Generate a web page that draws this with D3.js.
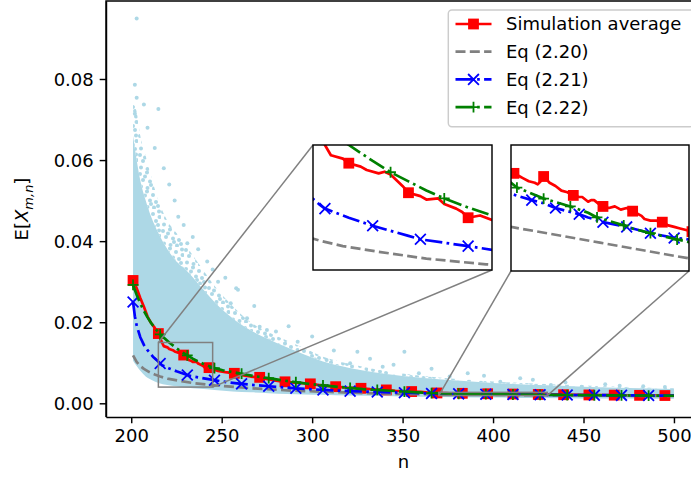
<!DOCTYPE html>
<html>
<head>
<meta charset="utf-8">
<script src="https://cdn.jsdelivr.net/npm/d3@7"></script>
<style>
  body { margin: 0; background: #fff; }
  svg { display: block; font-family: "DejaVu Sans", sans-serif; }
</style>
</head>
<body>
<div id="chart"></div>
<script>
// DATA
const xTicks = [200, 250, 300, 350, 400, 450, 500]
const yTicks = [0, 0.02, 0.04, 0.06, 0.08]
const legendLabels = ["Simulation average", "Eq (2.20)", "Eq (2.21)", "Eq (2.22)"]

// [n, E[X]]
const simAverage = [
  [201,0.0303],[203,0.0284],[205,0.0260],[207,0.0238],[209,0.0214],[211,0.0198],[213,0.0186],
  [215,0.0172],[217,0.0150],[218,0.0141],[220,0.0138],[221,0.0134],[223,0.0131],[224,0.0128],
  [226,0.0125],[227,0.01265],[228,0.0124],[229,0.0119],[230,0.0114],[231,0.0108],[233,0.0105],
  [234,0.0102],[236,0.0103],[237,0.0098],[239,0.0094],[240,0.0091],[241,0.0086],[243,0.0088],
  [245,0.0084],[248,0.0080],[252,0.0077],[257,0.0074],[262,0.0069],[266,0.0066],[271,0.0064],
  [276,0.0059],[280,0.0056],[285,0.0053],[290,0.0051],[294,0.0050],[299,0.0048],[304,0.0045],
  [308,0.0043],[313,0.0041],[318,0.0039],[322,0.0038],[327,0.0037],[332,0.0035],[336,0.0034],
  [341,0.0033],[346,0.0031],[350,0.0030],[355,0.0029],[360,0.0028],[364,0.00265],[369,0.00255],
  [370,0.00253],[371,0.00252],[373,0.00250],[374,0.00249],[376,0.00247],[378,0.00246],[379,0.00245],
  [380,0.00247],[381,0.00250],[382,0.00248],[383,0.00246],[385,0.00244],[387,0.00241],[389,0.00240],
  [391,0.00238],[393,0.00237],[394,0.00237],[396,0.00234],[397,0.00235],[398,0.00235],[400,0.00232],
  [401,0.00231],[403,0.00230],[405,0.00231],[407,0.00229],[409,0.00230],[411,0.00228],[412,0.00227],
  [414,0.00225],[415,0.00223],[417,0.00222],[419,0.00222],[421,0.00221],[423,0.00219],[425,0.00218],
  [427,0.00217],[429,0.00216],[431,0.00215],[435,0.00214],[439,0.00212],[446,0.00209],[453,0.00206],
  [460,0.00204],[467,0.00201],[474,0.00199],[481,0.00196],[488,0.00194],[495,0.00192],[500,0.00190]
]
const eq220 = [
  [201,0.0118],[203,0.0102],[205,0.0092],[207,0.0085],[210,0.0077],[213,0.0071],[216,0.0066],
  [220,0.0061],[226,0.0056],[234,0.0050],[244,0.0045],[255,0.0041],[270,0.0036],[290,0.0031],
  [310,0.0028],[330,0.0025],[350,0.0023],[370,0.00218],[385,0.00213],[400,0.00208],[415,0.00203],
  [430,0.00198],[450,0.00193],[475,0.00186],[500,0.00180]
]
const eq221 = [
  [201,0.0250],[202,0.0215],[203,0.0192],[205,0.0163],[207,0.0144],[209,0.0131],[212,0.0115],
  [214,0.0107],[216,0.0098],[217,0.0094],[221,0.0086],[225,0.0079],[229,0.0073],[231,0.0070],
  [233,0.0067],[237,0.0064],[241,0.0061],[246,0.0057],[253,0.0052],[261,0.0048],[268,0.0045],
  [276,0.0042],[291,0.0037],[306,0.0033],[321,0.0030],[336,0.0028],[351,0.0026],[366,0.00242],
  [370,0.00239],[377,0.00235],[381,0.00233],[385,0.00230],[393,0.00226],[396,0.00224],[401,0.00221],
  [409,0.00218],[411,0.00217],[417,0.00214],[425,0.00211],[426,0.00211],[430,0.00210],[441,0.00206],
  [456,0.00201],[471,0.00196],[486,0.00192],[500,0.00188]
]
const eq222 = [
  [201,0.0292],[203,0.0268],[205,0.0246],[207,0.0228],[209,0.0212],[211,0.0198],[213,0.0186],
  [216,0.0170],[219,0.0158],[221,0.0150],[225,0.0136],[228,0.0126],[231,0.0118],[234,0.0110],
  [237,0.0103],[241,0.0095],[245,0.0088],[246,0.0087],[251,0.0081],[256,0.0077],[261,0.0073],
  [268,0.0067],[276,0.0062],[283,0.0057],[291,0.0052],[298,0.0048],[306,0.0044],[313,0.0041],
  [321,0.0038],[328,0.0035],[336,0.0033],[343,0.0031],[351,0.0029],[358,0.0027],[366,0.00252],
  [372,0.00243],[381,0.00236],[390,0.00231],[396,0.00227],[399,0.00224],[408,0.00219],[411,0.00217],
  [417,0.00214],[426,0.00210],[431,0.00208],[441,0.00204],[456,0.00199],[471,0.00194],[486,0.00190],
  [500,0.00186]
]

// scatter of single runs: [n, low, top of dense part, top of sparse part] and loose points [n, value]
const cloudBand = [
  [201,0.0105,0.066,0.074],[203,0.0092,0.060,0.072],[205,0.0080,0.055,0.066],[208,0.0066,0.050,0.061],
  [211,0.0058,0.046,0.056],[215,0.0050,0.042,0.050],[220,0.0045,0.038,0.045],[225,0.0042,0.035,0.042],
  [230,0.0039,0.033,0.039],[238,0.0036,0.029,0.034],[246,0.0033,0.025,0.029],[256,0.0029,0.021,0.024],
  [266,0.0027,0.018,0.020],[276,0.0025,0.0158,0.0175],[286,0.0023,0.0138,0.0155],[296,0.0022,0.0120,0.0135],
  [306,0.0021,0.0103,0.0115],[320,0.0019,0.0088,0.0098],[340,0.0018,0.0073,0.0080],[360,0.0016,0.0063,0.0068],
  [380,0.0015,0.0056,0.0060],[400,0.0014,0.0050,0.0054],[425,0.0013,0.0045,0.0048],[450,0.0012,0.0041,0.0044],
  [475,0.0012,0.0038,0.0040],[500,0.0011,0.0035,0.0037]
]
const cloudOutliers = [
  [203,0.0949],[202,0.0786],[203,0.0754],[207,0.0737],[202,0.0714],[215,0.0726],[209,0.068],
  [213,0.063],[218,0.058],[221,0.054],[224,0.050],[226,0.046],[229,0.044],[231,0.0395],[234,0.041],
  [237,0.038],[242,0.035],[245,0.033],[248,0.030],[252,0.031],[258,0.0284],[259,0.028],[255,0.0247],
  [264,0.021],[268,0.024],[271,0.0189],[275,0.0181],[280,0.0177],[282,0.014],[287,0.019],[292,0.0152],
  [300,0.0165],[308,0.0107],[312,0.013],[321,0.0099],[325,0.0127],[332,0.011],[339,0.009],[345,0.0095],
  [351,0.0127],[359,0.0074],[366,0.0085],[376,0.0066],[386,0.0074],[395,0.0068],[404,0.0053],
  [415,0.0062],[422,0.0058],[432,0.0045],[440,0.0052],[449,0.0041],[462,0.0047],[470,0.0043],
  [483,0.0042],[495,0.0040]
]

// STYLES
const lw = 2.7
const series = [
  { data: simAverage, color: "#ff0000", dash: null, marker: "s", every: 14, insetEvery: 10 },
  { data: eq220, color: "#808080", dash: "10,4.3", marker: null },
  { data: eq221, color: "#0000ff", dash: "17.3,4.3,2.7,4.3", marker: "x", every: 15, insetEvery: 8 },
  { data: eq222, color: "#008000", dash: "17.3,4.3,2.7,4.3", marker: "+", every: 15, insetEvery: 9 },
]

// DIMENSIONS
const dimensions = {
  width: 691,
  height: 480,
  left: 106,
  right: 701,
  top: 1,
  bottom: 417,
}

const wrapper = d3.select("#chart")
  .append("svg")
  .attr("width", dimensions.width)
  .attr("height", dimensions.height)

const xScale = d3.scaleLinear()
  .domain([186.05, 514.95])
  .range([dimensions.left, dimensions.right])
const yScale = d3.scaleLinear()
  .domain([-0.00338, 0.09924])
  .range([dimensions.bottom, dimensions.top])

const defs = wrapper.append("defs")
defs.append("clipPath").attr("id", "clip-main")
  .append("rect")
  .attr("x", dimensions.left).attr("y", dimensions.top)
  .attr("width", dimensions.right - dimensions.left)
  .attr("height", dimensions.bottom - dimensions.top)

// loose dot texture for the thin upper part of the cloud
const sparse = defs.append("pattern")
  .attr("id", "sparse-dots")
  .attr("patternUnits", "userSpaceOnUse")
  .attr("width", 23).attr("height", 19)
;[[2, 3], [9, 1.5], [15, 5], [21, 2.5], [5, 9], [12, 10.5], [18, 12], [3, 15.5],
  [9.5, 17], [16, 17.5], [21.5, 8], [7, 5.5], [13, 14], [20, 16]].forEach(([cx, cy]) => {
  sparse.append("circle").attr("cx", cx).attr("cy", cy).attr("r", 2).attr("fill", "#add8e6")
})

const plot = wrapper.append("g").attr("clip-path", "url(#clip-main)")

// scatter cloud
const cloud = plot.append("g")
cloud.append("path")
  .datum(cloudBand)
  .attr("d", d3.area()
    .x(d => xScale(d[0]))
    .y0(d => yScale(d[2]))
    .y1(d => yScale(d[3]))
    .curve(d3.curveMonotoneX))
  .attr("fill", "url(#sparse-dots)")
cloud.append("path")
  .datum(cloudBand)
  .attr("d", d3.area()
    .x(d => xScale(d[0]))
    .y0(d => yScale(d[1]))
    .y1(d => yScale(d[2]))
    .curve(d3.curveMonotoneX))
  .attr("fill", "#add8e6")
cloud.selectAll("circle")
  .data(cloudOutliers)
  .join("circle")
    .attr("cx", d => xScale(d[0]))
    .attr("cy", d => yScale(d[1]))
    .attr("r", 2)
    .attr("fill", "#add8e6")

// INSETS
const insets = [
  { x: 313, y: 145, w: 179, h: 125, xDomain: [215, 245], yDomain: [0.004, 0.015],
    corners: [[0, 0], [1, 1]] },
  { x: 511, y: 145, w: 178, h: 126, xDomain: [370, 430], yDomain: [0.0019, 0.0027],
    corners: [[0, 1], [1, 1]] },
]

// zoom rectangles and connectors (under the curves)
const marks = wrapper.append("g")
insets.forEach(ins => {
  const rx0 = xScale(ins.xDomain[0]), rx1 = xScale(ins.xDomain[1])
  const ry0 = yScale(ins.yDomain[1]), ry1 = yScale(ins.yDomain[0])
  marks.append("rect")
    .attr("x", rx0).attr("y", ry0)
    .attr("width", rx1 - rx0).attr("height", Math.max(ry1 - ry0, 1))
    .attr("fill", "none").attr("stroke", "#808080").attr("stroke-width", 1.5)
  ins.corners.forEach(([fx, fy]) => {
    marks.append("line")
      .attr("x1", ins.x + fx * ins.w).attr("y1", ins.y + fy * ins.h)
      .attr("x2", rx0 + fx * (rx1 - rx0)).attr("y2", ry0 + fy * (ry1 - ry0))
      .attr("stroke", "#808080").attr("stroke-width", 1.5)
  })
})

function drawMarker(g, kind, color, cx, cy) {
  const s = 5.4
  if (kind === "s") {
    g.append("rect")
      .attr("x", cx - s).attr("y", cy - s)
      .attr("width", 2 * s).attr("height", 2 * s)
      .attr("fill", color)
  } else if (kind === "x") {
    g.append("path")
      .attr("d", `M${cx - s},${cy - s}L${cx + s},${cy + s}M${cx - s},${cy + s}L${cx + s},${cy - s}`)
      .attr("stroke", color).attr("stroke-width", 1.8).attr("fill", "none")
  } else if (kind === "+") {
    g.append("path")
      .attr("d", `M${cx - s},${cy}L${cx + s},${cy}M${cx},${cy - s}L${cx},${cy + s}`)
      .attr("stroke", color).attr("stroke-width", 1.8).attr("fill", "none")
  }
}

function drawSeries(g, s, x, y, every) {
  const line = d3.line().x(d => x(d[0])).y(d => y(d[1]))
  g.append("path")
    .datum(s.data)
    .attr("d", line)
    .attr("fill", "none")
    .attr("stroke", s.color)
    .attr("stroke-width", lw)
    .attr("stroke-linejoin", "round")
    .attr("stroke-dasharray", s.dash)
  if (s.marker) {
    s.data.filter(d => (d[0] - 201) % every === 0)
      .forEach(d => drawMarker(g, s.marker, s.color, x(d[0]), y(d[1])))
  }
}

series.forEach(s => drawSeries(plot.append("g"), s, xScale, yScale, s.every))

// inset axes
insets.forEach((ins, i) => {
  const ix = d3.scaleLinear().domain(ins.xDomain).range([ins.x, ins.x + ins.w])
  const iy = d3.scaleLinear().domain(ins.yDomain).range([ins.y + ins.h, ins.y])
  defs.append("clipPath").attr("id", `clip-inset-${i}`)
    .append("rect").attr("x", ins.x).attr("y", ins.y).attr("width", ins.w).attr("height", ins.h)
  wrapper.append("rect")
    .attr("x", ins.x).attr("y", ins.y).attr("width", ins.w).attr("height", ins.h)
    .attr("fill", "#fff")
  const g = wrapper.append("g").attr("clip-path", `url(#clip-inset-${i})`)
  series.forEach(s => drawSeries(g.append("g"), s, ix, iy, s.insetEvery))
  wrapper.append("rect")
    .attr("x", ins.x).attr("y", ins.y).attr("width", ins.w).attr("height", ins.h)
    .attr("fill", "none").attr("stroke", "#000").attr("stroke-width", 1.44)
})

// AXES
const xAxis = wrapper.append("g")
  .attr("transform", `translate(0,${dimensions.bottom})`)
  .call(d3.axisBottom(xScale).tickValues(xTicks).tickSize(6.3).tickSizeOuter(0).tickPadding(5))
const yAxis = wrapper.append("g")
  .attr("transform", `translate(${dimensions.left},0)`)
  .call(d3.axisLeft(yScale).tickValues(yTicks).tickFormat(d3.format(".2f"))
    .tickSize(6.3).tickSizeOuter(0).tickPadding(6))
;[xAxis, yAxis].forEach(ax => {
  ax.selectAll("path, line").attr("stroke", "#000").attr("stroke-width", 1.44)
  ax.selectAll("text")
    .attr("fill", "#000")
    .style("font-size", "18px")
    .style("font-family", "DejaVu Sans")
})
xAxis.selectAll("text").attr("dy", "0.76em")
yAxis.selectAll("text").attr("dy", "0.36em")

// top and right spines
wrapper.append("path")
  .attr("d", `M${dimensions.left},${dimensions.bottom}V${dimensions.top}H${dimensions.right}V${dimensions.bottom}`)
  .attr("fill", "none").attr("stroke", "#000").attr("stroke-width", 1.44)

// axis labels
wrapper.append("text")
  .attr("x", (dimensions.left + dimensions.right) / 2)
  .attr("y", 468)
  .attr("text-anchor", "middle")
  .style("font-size", "18px")
  .text("n")

const yLabel = wrapper.append("text")
  .attr("transform", `translate(28,${(dimensions.top + dimensions.bottom) / 2}) rotate(-90)`)
  .attr("text-anchor", "middle")
  .style("font-size", "18px")
yLabel.append("tspan").text("E[")
yLabel.append("tspan").style("font-style", "italic").text("X")
yLabel.append("tspan").style("font-style", "italic").style("font-size", "13px")
  .attr("dy", "0.35em").text("m,n")
yLabel.append("tspan").attr("dy", "-0.25em").text("]")

// LEGEND
const legend = wrapper.append("g")
legend.append("rect")
  .attr("x", 448.3).attr("y", 10)
  .attr("width", 245.4).attr("height", 116.7)
  .attr("rx", 3.6)
  .attr("fill", "#fff").attr("fill-opacity", 0.8)
  .attr("stroke", "#cccccc").attr("stroke-width", 1.44)
series.forEach((s, i) => {
  const cy = 24 + i * 27.7
  const row = legend.append("g")
  row.append("line")
    .attr("x1", 455.5).attr("x2", 491.5)
    .attr("y1", cy).attr("y2", cy)
    .attr("stroke", s.color).attr("stroke-width", lw)
    .attr("stroke-dasharray", s.dash)
  if (s.marker) drawMarker(row, s.marker, s.color, 473.5, cy)
  row.append("text")
    .attr("x", 506).attr("y", cy)
    .attr("dy", "0.36em")
    .style("font-size", "18px")
    .attr("fill", "#000")
    .text(legendLabels[i])
})
</script>
</body>
</html>
